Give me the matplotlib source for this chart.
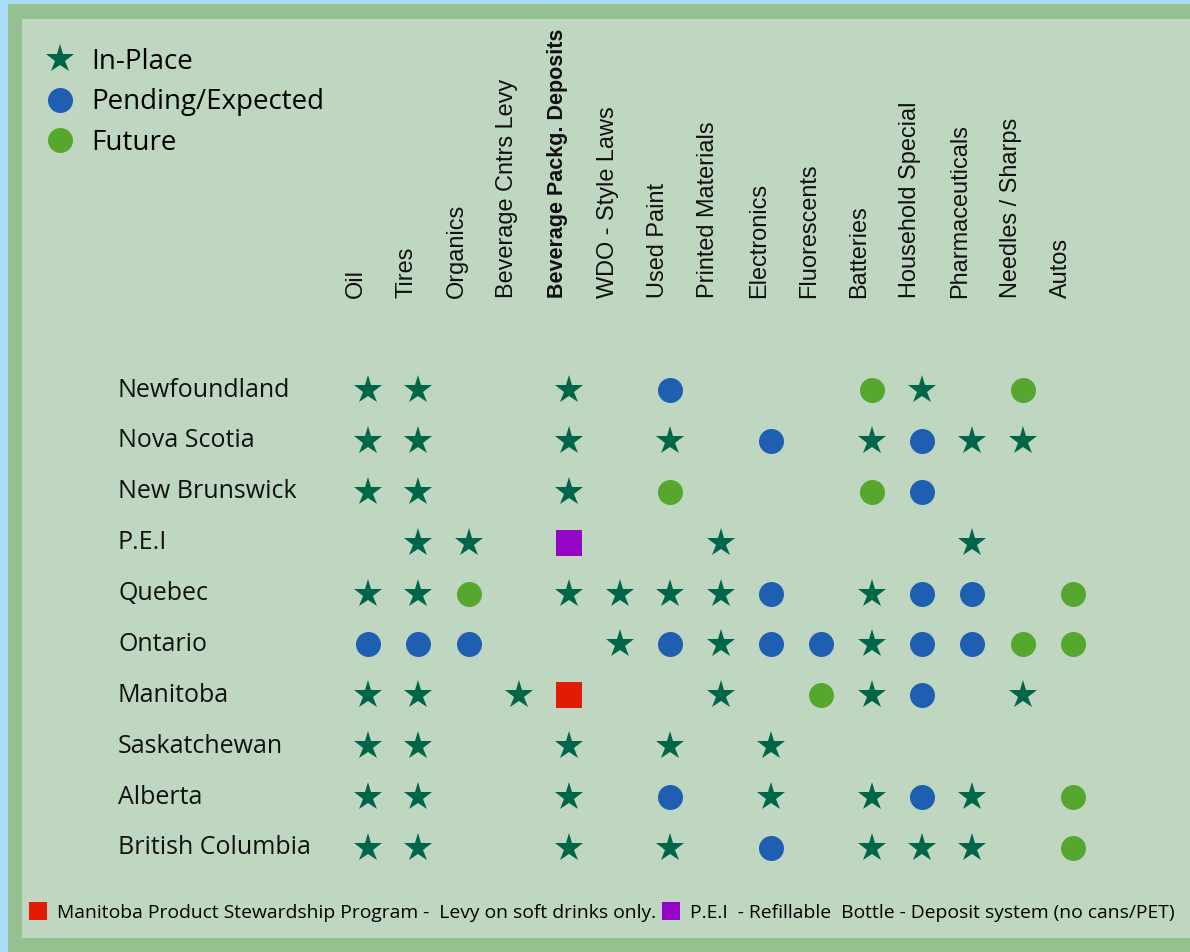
import matplotlib
matplotlib.use("Agg")
import matplotlib.pyplot as plt
import matplotlib.transforms as mtransforms
from matplotlib.patches import Rectangle
from matplotlib.lines import Line2D

# columns (programs) and rows (provinces)
programs = ["Oil", "Tires", "Organics", "Beverage Cntrs Levy", "Beverage Packg. Deposits",
            "WDO - Style Laws", "Used Paint", "Printed Materials", "Electronics", "Fluorescents",
            "Batteries", "Household Special", "Pharmaceuticals", "Needles / Sharps", "Autos"]
provinces = ["Newfoundland", "Nova Scotia", "New Brunswick", "P.E.I", "Quebec",
             "Ontario", "Manitoba", "Saskatchewan", "Alberta", "British Columbia"]

# S = in-place, P = pending/expected, F = future, R = Manitoba levy, V = PEI refillables
status = [
    "SS..S.P...FS.F.",
    "SS..S.S.P.SPSS.",
    "SS..S.F...FP...",
    ".SS.V..S....S..",
    "SSF.SSSSP.SPP.F",
    "PPP..SPSPPSPPFF",
    "SS.SR..S.FSP.S.",
    "SS..S.S.S......",
    "SS..S.P.S.SPS.F",
    "SS..S.S.P.SSS.F",
]

legend_labels = ["In-Place", "Pending/Expected", "Future"]
note_labels = ["Manitoba Product Stewardship Program -  Levy on soft drinks only.",
               "P.E.I  - Refillable  Bottle - Deposit system (no cans/PET)"]

styles = {
    "S": dict(marker="*", ms=21, color="#00664a"),
    "P": dict(marker="o", ms=18, color="#1e5fb2"),
    "F": dict(marker="o", ms=18, color="#55a72d"),
    "R": dict(marker="s", ms=19, color="#e21b05"),
    "V": dict(marker="s", ms=19, color="#9405c6"),
}

W, H = 1190, 952
fig = plt.figure(figsize=(W / 100, H / 100), dpi=100)
fig.patch.set_facecolor("#a9dcf6")
fig.add_artist(Rectangle((8 / W, 0), 1, (H - 4) / H, transform=fig.transFigure,
                         facecolor="#93c190", edgecolor="none", zorder=0))
fig.add_artist(Rectangle((22 / W, (H - 938) / H), 1, (938 - 19) / H, transform=fig.transFigure,
                         facecolor="#bfd7c1", edgecolor="none", zorder=0))

ax = fig.add_axes([342.8 / W, 1 - 873.4 / H, 755.4 / W, 508.8 / H])
ax.set_xlim(-0.5, len(programs) - 0.5)
ax.set_ylim(len(provinces) - 0.5, -0.5)
ax.axis("off")

for key, st in styles.items():
    xs, ys = [], []
    for r, row in enumerate(status):
        for c, ch in enumerate(row):
            if ch == key:
                xs.append(c)
                ys.append(r)
    ax.plot(xs, ys, linestyle="none", markeredgewidth=0, **st)

# row labels
row_tr = mtransforms.blended_transform_factory(fig.transFigure, ax.transData)
for r, name in enumerate(provinces):
    ax.text(118 / W, r, name, transform=row_tr, ha="left", va="center",
            fontsize=18, family=["Open Sans", "DejaVu Sans"], color="#111111")

# column labels
col_tr = mtransforms.blended_transform_factory(ax.transData, fig.transFigure)
headers = []
for c, name in enumerate(programs):
    t = ax.text(c - 0.24, 1 - 298 / H, name, transform=col_tr, rotation=90,
                ha="center", va="bottom", fontsize=20,
                fontweight="bold" if "Packg" in name else "normal",
                family=["Liberation Sans", "DejaVu Sans"], color="#111111")
    headers.append(t)

# size the headers so they are as long as in the original
fig.canvas.draw()
rend = fig.canvas.get_renderer()
scale = 219 / headers[3].get_window_extent(rend).height
bold_scale = 269 / headers[4].get_window_extent(rend).height
for t in headers:
    t.set_fontsize(20 * (bold_scale if t is headers[4] else scale))

# status legend
handles = [Line2D([], [], linestyle="none", markeredgewidth=0, **styles[k]) for k in "SPF"]
fig.legend(handles, legend_labels, loc="upper left", bbox_to_anchor=(43 / W, 1 - 48 / H),
           frameon=False, handlelength=1.2, handletextpad=0.55,
           labelspacing=0.45, borderpad=0, borderaxespad=0,
           prop=dict(family=["Open Sans", "DejaVu Sans"], size=20))

# footnote
note_handles = [Line2D([], [], linestyle="none", marker="s", ms=13, markeredgewidth=0,
                       color=styles[k]["color"]) for k in "RV"]
fig.legend(note_handles, note_labels, loc="center left", bbox_to_anchor=(29 / W, 1 - 913 / H),
           ncol=2, frameon=False, handlelength=0.9, handletextpad=0.55,
           columnspacing=0.3, borderpad=0, borderaxespad=0,
           prop=dict(family=["Open Sans", "DejaVu Sans"], size=13.9))

fig.savefig("out.png", dpi=100, facecolor=fig.get_facecolor())
